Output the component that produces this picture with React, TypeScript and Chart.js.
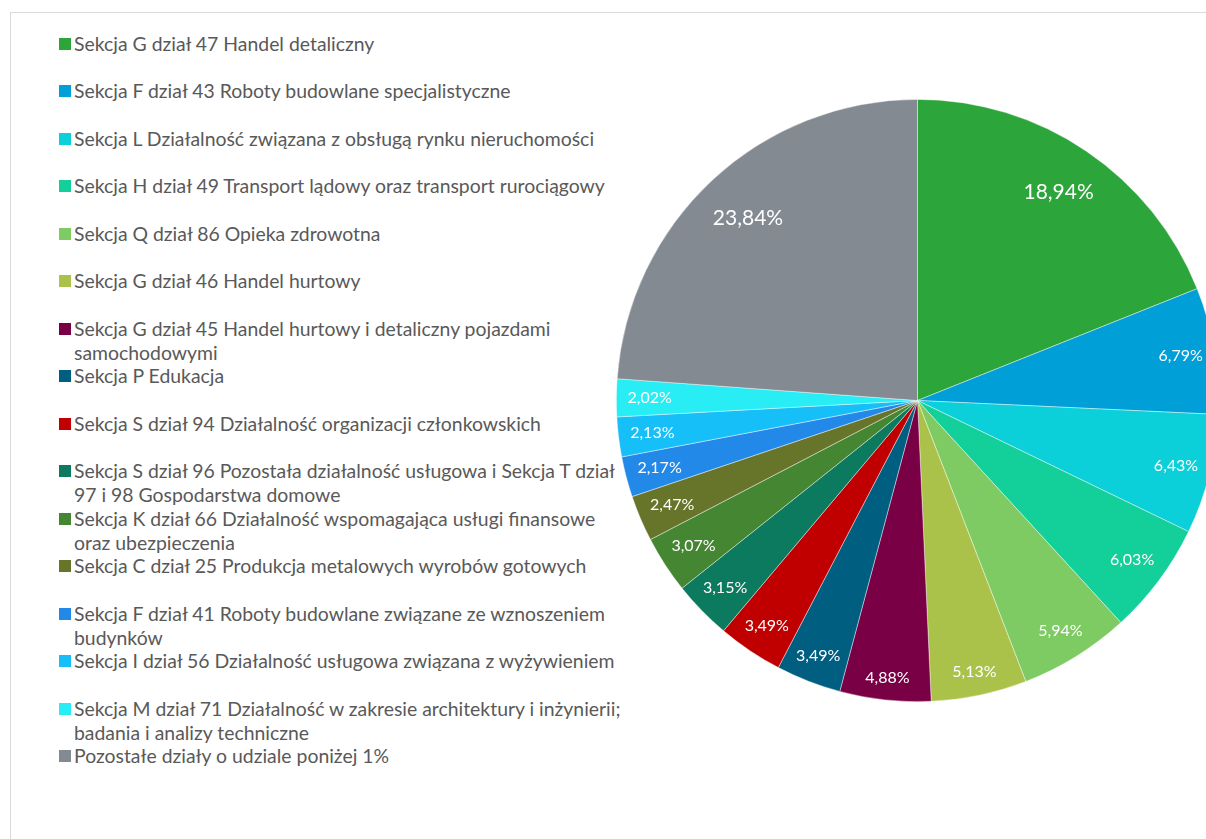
import React, { useEffect, useRef } from "react";
import { Chart, registerables } from "chart.js";

Chart.register(...registerables);

const labels: string[] = [
  "Sekcja G dział 47 Handel detaliczny",
  "Sekcja F dział 43 Roboty budowlane specjalistyczne",
  "Sekcja L Działalność związana z obsługą rynku nieruchomości",
  "Sekcja H dział 49 Transport lądowy oraz transport rurociągowy",
  "Sekcja Q dział 86 Opieka zdrowotna",
  "Sekcja G dział 46 Handel hurtowy",
  "Sekcja G dział 45 Handel hurtowy i detaliczny pojazdami\nsamochodowymi",
  "Sekcja P Edukacja",
  "Sekcja S dział 94 Działalność organizacji członkowskich",
  "Sekcja S dział 96 Pozostała działalność usługowa i Sekcja T dział\n97 i 98 Gospodarstwa domowe",
  "Sekcja K dział 66 Działalność wspomagająca usługi finansowe\noraz ubezpieczenia",
  "Sekcja C dział 25 Produkcja metalowych wyrobów gotowych",
  "Sekcja F dział 41 Roboty budowlane związane ze wznoszeniem\nbudynków",
  "Sekcja I dział 56 Działalność usługowa związana z wyżywieniem",
  "Sekcja M dział 71 Działalność w zakresie architektury i inżynierii;\nbadania i analizy techniczne",
  "Pozostałe działy o udziale poniżej 1%",
];

const values: number[] = [
  18.94, 6.79, 6.43, 6.03, 5.94, 5.13, 4.88, 3.49, 3.49, 3.15, 3.07, 2.47, 2.17, 2.13, 2.02, 23.84,
];

const colors: string[] = [
  "#2CA53A",
  "#009FD7",
  "#0BD0D9",
  "#13D09A",
  "#7ECB63",
  "#ABC24A",
  "#7A0046",
  "#005F80",
  "#C00000",
  "#0B7A5E",
  "#458632",
  "#67752A",
  "#2389E9",
  "#16BFF8",
  "#28EDF4",
  "#838A91",
];

const FONT = "Lato, 'Open Sans', sans-serif";

const fmt = (v: number) => v.toFixed(2).replace(".", ",") + "%";

const labelPlugin = {
  id: "insideEndLabels",
  afterDatasetsDraw(chart: any) {
    const ctx = chart.ctx;
    const meta = chart.getDatasetMeta(0);
    ctx.save();
    ctx.fillStyle = "#FFFFFF";
    ctx.textAlign = "center";
    ctx.textBaseline = "middle";
    meta.data.forEach((arc: any, i: number) => {
      const { x, y, startAngle, endAngle, outerRadius } = arc.getProps(
        ["x", "y", "startAngle", "endAngle", "outerRadius"],
        true
      );
      const big = values[i] > 10;
      const size = big ? 21 : 16;
      ctx.font = `${size}px ${FONT}`;
      const text = fmt(values[i]);
      const w = ctx.measureText(text).width;
      const hw = w / 2;
      const hh = size * 0.5;
      const mid = (startAngle + endAngle) / 2;
      const ux = Math.cos(mid);
      const uy = Math.sin(mid);
      const pad = big ? 20 : 11;
      const R = outerRadius - pad;
      const a = (ux >= 0 ? 1 : -1) * hw;
      const b = (uy >= 0 ? 1 : -1) * hh;
      const p = ux * a + uy * b;
      const d = -p + Math.sqrt(Math.max(p * p - (a * a + b * b - R * R), 0));
      ctx.fillText(text, x + ux * d, y + uy * d);
    });
    ctx.restore();
  },
};

export default function App() {
  const canvasRef = useRef<HTMLCanvasElement | null>(null);

  useEffect(() => {
    document.body.style.overflow = "hidden";
    const canvas = canvasRef.current;
    if (!canvas) return;
    const chart = new Chart(canvas, {
      type: "pie",
      data: {
        labels: labels.map((l) => l.replace("\n", " ")),
        datasets: [
          {
            data: values,
            backgroundColor: colors,
            borderColor: "rgba(255,255,255,0.55)",
            borderWidth: 0.75,
          },
        ],
      },
      options: {
        animation: false,
        responsive: false,
        maintainAspectRatio: false,
        layout: { padding: 0 },
        plugins: {
          legend: { display: false },
          tooltip: { enabled: false },
        },
      },
      plugins: [labelPlugin],
    });
    return () => chart.destroy();
  }, []);

  return (
    <div
      style={{
        position: "fixed",
        left: 10,
        top: 12,
        right: 0,
        bottom: 0,
        borderLeft: "1px solid #D9D9D9",
        borderTop: "1px solid #D9D9D9",
        overflow: "hidden",
        background: "#FFFFFF",
      }}
    >
      <div style={{ position: "absolute", left: 0, top: 0 }}>
        {labels.map((l, i) => (
          <div
            key={i}
            style={{
              position: "absolute",
              left: 48,
              top: 19 + i * 47.47,
              display: "flex",
              alignItems: "flex-start",
              whiteSpace: "pre",
              fontFamily: FONT,
              fontSize: 19.4,
              lineHeight: "24px",
              color: "#595959",
            }}
          >
            <span
              style={{
                display: "inline-block",
                width: 12,
                height: 12,
                marginTop: 6,
                marginRight: 3,
                background: colors[i],
                flex: "none",
              }}
            />
            <span>{l}</span>
          </div>
        ))}
      </div>
      <canvas
        ref={canvasRef}
        width={603}
        height={603}
        style={{ position: "absolute", left: 605, top: 86, width: 603, height: 603 }}
      />
    </div>
  );
}
